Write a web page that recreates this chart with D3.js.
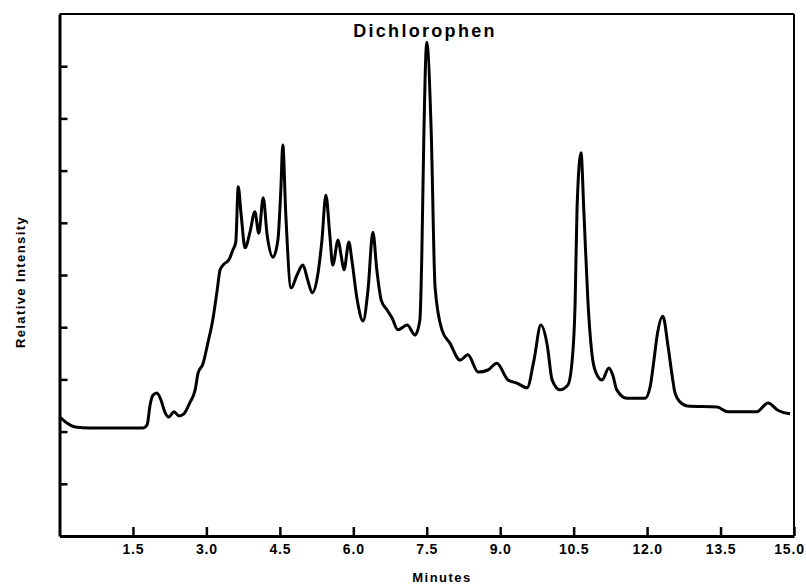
<!DOCTYPE html>
<html>
<head>
<meta charset="utf-8">
<script src="https://cdn.jsdelivr.net/npm/d3@7"></script>
<style>
  body { margin: 0; background: #fff; }
  text { font-family: "Liberation Sans", Arial, Helvetica, sans-serif; font-weight: bold; fill: #000; }
</style>
</head>
<body>
<div id="chart"></div>
<script>
// chromatogram trace (minutes vs relative intensity)
var minutes = [0, 0.13, 0.32, 0.62, 1.71, 1.79, 1.85, 1.91, 1.99, 2.07, 2.15, 2.23, 2.34, 2.44, 2.54,
  2.66, 2.77, 2.83, 2.93, 3.03, 3.13, 3.22, 3.28, 3.36, 3.46, 3.54, 3.60, 3.65, 3.71, 3.79,
  3.89, 3.99, 4.07, 4.16, 4.24, 4.36, 4.46, 4.52, 4.56, 4.62, 4.73, 4.85, 4.97, 5.07, 5.16,
  5.28, 5.36, 5.44, 5.52, 5.58, 5.69, 5.75, 5.81, 5.91, 5.97, 6.08, 6.20, 6.30, 6.40, 6.48,
  6.57, 6.69, 6.79, 6.91, 7.10, 7.26, 7.36, 7.40, 7.44, 7.50, 7.59, 7.67, 7.81, 7.97, 8.18,
  8.34, 8.55, 8.75, 8.93, 9.16, 9.34, 9.55, 9.69, 9.83, 9.96, 10.06, 10.22, 10.38, 10.47, 10.53,
  10.57, 10.65, 10.71, 10.79, 10.89, 10.98, 11.08, 11.22, 11.30, 11.38, 11.59, 11.96, 12.06, 12.14, 12.20,
  12.32, 12.43, 12.51, 12.57, 12.67, 12.82, 13.43, 13.65, 14.24, 14.47, 14.67, 14.92];
var intensity = [2.28, 2.18, 2.09, 2.07, 2.07, 2.13, 2.51, 2.70, 2.74, 2.61, 2.38, 2.28, 2.38, 2.30, 2.34,
  2.55, 2.80, 3.12, 3.30, 3.70, 4.14, 4.71, 5.10, 5.21, 5.29, 5.48, 5.63, 6.69, 6.15, 5.52,
  5.82, 6.21, 5.80, 6.48, 5.77, 5.34, 5.67, 6.63, 7.49, 6.19, 4.75, 5.00, 5.19, 4.90, 4.66,
  5.04, 5.67, 6.53, 5.77, 5.19, 5.67, 5.38, 5.10, 5.63, 5.29, 4.52, 4.12, 4.71, 5.82, 5.10,
  4.52, 4.33, 4.18, 3.95, 4.04, 3.85, 4.14, 5.42, 7.64, 9.46, 7.78, 4.77, 3.95, 3.70, 3.37,
  3.47, 3.14, 3.18, 3.31, 2.99, 2.93, 2.84, 3.37, 4.04, 3.66, 2.99, 2.80, 2.89, 3.37, 4.46,
  6.30, 7.34, 6.19, 4.52, 3.37, 3.08, 2.99, 3.22, 3.08, 2.80, 2.64, 2.64, 2.85, 3.37, 3.81,
  4.21, 3.62, 3.08, 2.74, 2.57, 2.49, 2.47, 2.38, 2.38, 2.55, 2.41, 2.34];

var xTicks = [1.5, 3.0, 4.5, 6.0, 7.5, 9.0, 10.5, 12.0, 13.5, 15.0];
var yTicks = [1, 2, 3, 4, 5, 6, 7, 8, 9];

var margin = { top: 14, right: 12, bottom: 48, left: 59.5 },
    width = 806 - margin.left - margin.right,
    height = 584 - margin.top - margin.bottom;

var data = minutes.map(function (m, i) { return { t: m, v: intensity[i] }; });

var svg = d3.select("#chart")
    .append("svg")
    .attr("width", width + margin.left + margin.right)
    .attr("height", height + margin.top + margin.bottom);

var g = svg.append("g")
    .attr("transform", "translate(" + margin.left + "," + margin.top + ")");

var x = d3.scaleLinear().domain([0, 15]).range([0, width]);
var y = d3.scaleLinear().domain([0, 10]).range([height, 0]);

// frame: thin top and right edges
g.append("line").attr("x1", 0).attr("x2", width).attr("y1", 0).attr("y2", 0)
    .attr("stroke", "#000").attr("stroke-width", 2);
g.append("line").attr("x1", width).attr("x2", width).attr("y1", 0).attr("y2", height)
    .attr("stroke", "#000").attr("stroke-width", 2);

// bottom axis, ticks pointing up into the plot
var xAxis = g.append("g")
    .attr("transform", "translate(0," + height + ")")
    .call(d3.axisBottom(x).tickValues(xTicks).tickFormat(d3.format(".1f"))
        .tickSizeInner(-9).tickSizeOuter(0).tickPadding(8));
xAxis.select(".domain").attr("stroke-width", 3);
xAxis.selectAll(".tick line").attr("stroke-width", 2.5);
xAxis.selectAll(".tick text")
    .style("font-size", "14px")
    .style("letter-spacing", "0.8px")
    .style("font-family", "'Liberation Sans', Arial, sans-serif")
    .style("font-weight", "bold");
// last label sits against the page edge
xAxis.selectAll(".tick text").filter(function (d) { return d === 15; })
    .attr("dx", "-5");

// left axis, unlabeled ticks pointing right
var yAxis = g.append("g")
    .call(d3.axisLeft(y).tickValues(yTicks).tickFormat("")
        .tickSizeInner(-8).tickSizeOuter(0));
yAxis.select(".domain").attr("stroke-width", 3);
yAxis.selectAll(".tick line").attr("stroke-width", 2.5);

// the trace
g.append("path")
    .datum(data)
    .attr("fill", "none")
    .attr("stroke", "#000")
    .attr("stroke-width", 3)
    .attr("stroke-linejoin", "round")
    .attr("d", d3.line()
        .x(function (d) { return x(d.t); })
        .y(function (d) { return y(d.v); })
        .curve(d3.curveMonotoneX));

// titles
svg.append("text")
    .attr("x", 425)
    .attr("y", 37)
    .attr("text-anchor", "middle")
    .style("font-size", "18px")
    .style("letter-spacing", "2.3px")
    .text("Dichlorophen");

svg.append("text")
    .attr("x", 442)
    .attr("y", 582)
    .attr("text-anchor", "middle")
    .style("font-size", "13px")
    .style("letter-spacing", "1.5px")
    .text("Minutes");

svg.append("text")
    .attr("transform", "translate(25,282) rotate(-90)")
    .attr("text-anchor", "middle")
    .style("font-size", "13px")
    .style("letter-spacing", "1.4px")
    .text("Relative Intensity");
</script>
</body>
</html>
